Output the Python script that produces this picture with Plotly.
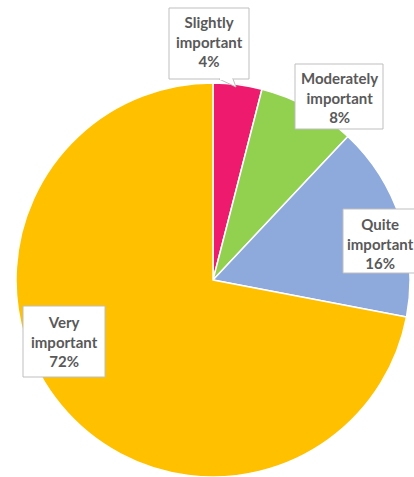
import plotly.graph_objects as go

# Survey answers, in clockwise order from 12 o'clock
categories = ["Slightly important", "Moderately important", "Quite important", "Very important"]
shares = [4, 8, 16, 72]
colors = ["#EE1A6E", "#92D050", "#8EA9DB", "#FFC000"]

W, H = 414, 477


def px(x):
    return x / W


def py(y):
    return 1 - y / H


# pie centre and radius in pixels
cx, cy, r = 213, 280, 197

fig = go.Figure(
    go.Pie(
        labels=categories,
        values=shares,
        sort=False,
        direction="clockwise",
        rotation=0,
        marker=dict(colors=colors, line=dict(color="white", width=1.5)),
        textinfo="none",
        hoverinfo="label+percent",
        showlegend=False,
        domain=dict(x=[px(cx - r), px(cx + r)],
                    y=[max(0, py(cy + r)), min(1, py(cy - r))]),
    )
)

# callout boxes: (left, top, right, bottom, text centre x, text centre y)
boxes = [
    (169, 8, 249, 79, 209, 42),
    (295, 64, 383, 129, 339, 97),
    (343, 209, 420, 273, 380, 243),
    (23, 306, 105, 377, 64, 341),
]

shapes = []
annotations = []
for (l, t, rr, b, tx, ty), name, val in zip(boxes, categories, shares):
    shapes.append(dict(
        type="rect", xref="paper", yref="paper",
        x0=px(l), x1=px(rr), y0=py(b), y1=py(t),
        fillcolor="white", line=dict(color="#BFBFBF", width=1), layer="above",
    ))
    annotations.append(dict(
        xref="paper", yref="paper", x=px(tx), y=py(ty),
        text="<b>" + name.replace(" ", "<br>") + "<br>" + f"{val}%" + "</b>",
        showarrow=False, xanchor="center", yanchor="middle",
        font=dict(family="Lato", size=15, color="#595959"),
    ))

# pointer of the first callout towards its slice
shapes.append(dict(
    type="path", xref="paper", yref="paper",
    path=f"M {px(219)},{py(79)} L {px(236)},{py(87)} L {px(233)},{py(79)}",
    fillcolor="white", line=dict(color="#BFBFBF", width=1), layer="above",
))
shapes.append(dict(
    type="line", xref="paper", yref="paper",
    x0=px(220), x1=px(232), y0=py(79), y1=py(79),
    line=dict(color="white", width=2), layer="above",
))

fig.update_layout(
    width=W, height=H,
    margin=dict(l=0, r=0, t=0, b=0),
    paper_bgcolor="white",
    plot_bgcolor="white",
    shapes=shapes,
    annotations=annotations,
)

fig.write_html("out.html")
